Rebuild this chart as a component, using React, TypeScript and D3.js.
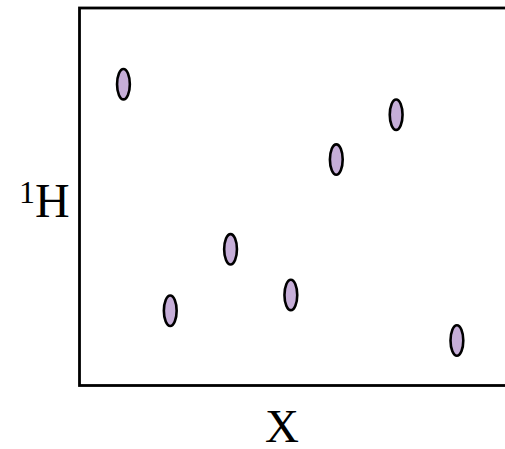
import React from "react";
import * as d3 from "d3";

const xValues = [1.01, 2.05, 3.39, 4.73, 5.74, 7.07, 8.42];
const yValues = [7.98, 1.97, 3.6, 2.39, 5.98, 7.17, 1.18];
const xLabel = "X";
const yLabelSup = "1";
const yLabelMain = "H";

export default function App() {
  const W = 505;
  const H = 449;
  const left = 79.5;
  const top = 8;
  const bottom = 385.5;
  const right = 528;
  const x = d3.scaleLinear().domain([0, 10]).range([78, 528]);
  const y = d3.scaleLinear().domain([0, 10]).range([385, 8]);
  const points = xValues.map((v, i) => ({ x: v, y: yValues[i] }));
  return (
    <svg
      width={W}
      height={H}
      style={{ position: "absolute", left: 0, top: 0, background: "#fff" }}
    >
      <rect
        x={left}
        y={top}
        width={right - left}
        height={bottom - top}
        fill="none"
        stroke="#000"
        strokeWidth={2.8}
      />
      {points.map((p, i) => (
        <ellipse
          key={i}
          cx={x(p.x)}
          cy={y(p.y)}
          rx={6.4}
          ry={15.2}
          fill="#c6aed8"
          stroke="#000"
          strokeWidth={2.6}
        />
      ))}
      <text
        x={282}
        y={442}
        textAnchor="middle"
        fontFamily="'Liberation Serif', 'Times New Roman', serif"
        fontSize={47}
        fill="#000"
      >
        {xLabel}
      </text>
      <text
        x={19}
        y={217}
        fontFamily="'Liberation Serif', 'Times New Roman', serif"
        fill="#000"
      >
        <tspan fontSize={32} dy={-14}>
          {yLabelSup}
        </tspan>
        <tspan fontSize={48} dy={14}>
          {yLabelMain}
        </tspan>
      </text>
    </svg>
  );
}
